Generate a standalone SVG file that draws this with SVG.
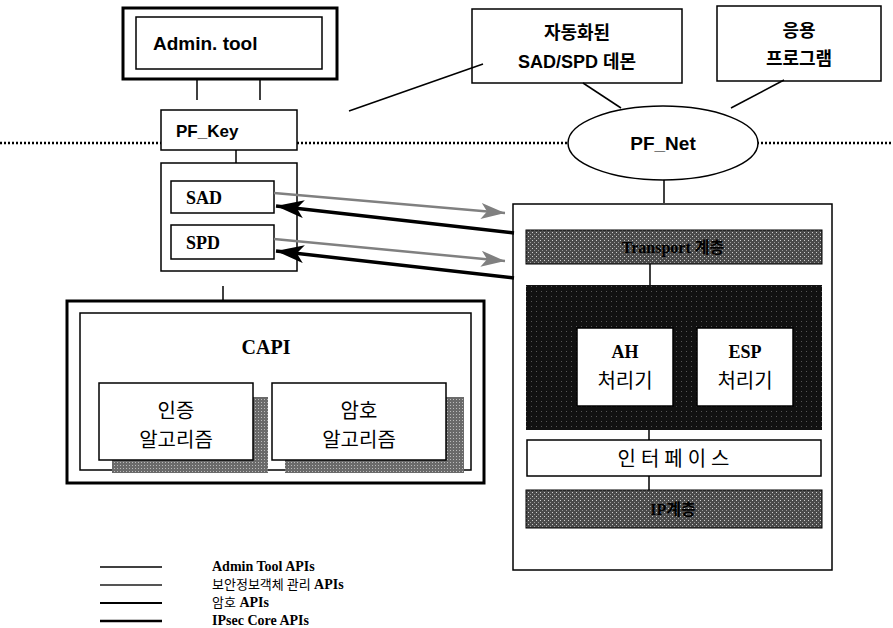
<svg xmlns="http://www.w3.org/2000/svg" width="893" height="628" viewBox="0 0 893 628">
<style>
.box{fill:#fff;stroke:#000;stroke-width:1.5}
.thick{fill:#fff;stroke:#000;stroke-width:3}
.ln{stroke:#000;stroke-width:1.5;fill:none}
.bs{font-family:"Liberation Sans","Noto Sans CJK KR",Arial,sans-serif;font-weight:bold;fill:#000}
.sf{font-family:"Liberation Serif","Noto Sans CJK KR",serif;font-weight:bold;fill:#000}
.kr{font-family:"Noto Sans CJK KR",sans-serif;fill:#000}
.c{text-anchor:middle}
</style>
<defs>
<pattern id="half" width="4" height="4" patternUnits="userSpaceOnUse">
<rect width="4" height="4" fill="#4a4a4a"/>
<rect x="0" y="0" width="1" height="1" fill="#cfcfcf"/>
<rect x="2" y="2" width="1" height="1" fill="#9a9a9a"/>
</pattern>
<pattern id="dark" width="5" height="5" patternUnits="userSpaceOnUse">
<rect width="5" height="5" fill="#111"/>
<rect x="1" y="1" width="1" height="1" fill="#555"/>
</pattern>
<pattern id="shade" width="3" height="3" patternUnits="userSpaceOnUse">
<rect width="3" height="3" fill="#6a6a6a"/>
<rect x="0" y="0" width="1" height="1" fill="#bbb"/>
</pattern>
<marker id="ab" markerUnits="userSpaceOnUse" markerWidth="30" markerHeight="20" refX="28" refY="9" orient="auto">
<path d="M0,0 L28,9 L0,18 L7,9 z" fill="#000"/>
</marker>
<marker id="ag" markerUnits="userSpaceOnUse" markerWidth="26" markerHeight="18" refX="24" refY="8" orient="auto">
<path d="M0,0 L24,8 L0,16 L6,8 z" fill="#808080"/>
</marker>
</defs>

<!-- dotted separator -->
<g id="separator" stroke="#000" stroke-width="2.5" stroke-dasharray="2,2">
<line x1="0" y1="143" x2="161" y2="143"/>
<line x1="297" y1="143" x2="568" y2="143"/>
<line x1="757" y1="143" x2="893" y2="143"/>
</g>

<g id="admin-tool">
<rect class="thick" x="123" y="8" width="214" height="71"/>
<rect class="box" x="136" y="17" width="186" height="52"/>
<text class="bs" x="153" y="50" font-size="19">Admin. tool</text>
</g>

<g id="pf-key">
<rect class="box" x="161" y="110" width="136" height="40"/>
<text class="bs" x="176" y="137" font-size="17">PF_Key</text>
</g>

<g id="sad-spd">
<rect class="box" x="161" y="163" width="136" height="108"/>
<rect class="box" x="171" y="181" width="103" height="32"/>
<text class="sf" x="186" y="204" font-size="18">SAD</text>
<rect class="box" x="171" y="225" width="103" height="34"/>
<text class="sf" x="186" y="249" font-size="18">SPD</text>
</g>

<g id="capi">
<rect class="thick" x="67" y="301" width="417" height="182"/>
<rect class="box" x="80" y="313" width="391" height="157" stroke-width="1"/>
<text class="sf c" x="266" y="354" font-size="20">CAPI</text>
</g>

<g id="auth-alg">
<rect x="112" y="397" width="156" height="76" fill="url(#shade)"/>
<rect class="box" x="99" y="383" width="154" height="77"/>
<text class="kr c" x="176" y="418" font-size="20">인증</text>
<text class="kr c" x="176" y="447" font-size="20">알고리즘</text>
</g>

<g id="crypto-alg">
<rect x="285" y="397" width="179" height="76" fill="url(#shade)"/>
<rect class="box" x="272" y="383" width="174" height="77"/>
<text class="kr c" x="359" y="418" font-size="20">암호</text>
<text class="kr c" x="359" y="447" font-size="20">알고리즘</text>
</g>

<g id="daemon">
<rect class="box" x="472" y="9" width="210" height="74"/>
<text class="bs c" x="577" y="39" font-size="18">자동화된</text>
<text class="bs c" x="577" y="68" font-size="18">SAD/SPD 데몬</text>
</g>

<g id="app">
<rect class="box" x="717" y="6" width="164" height="75"/>
<text class="bs c" x="799" y="37" font-size="18">응용</text>
<text class="bs c" x="799" y="65" font-size="18">프로그램</text>
</g>

<g id="pf-net">
<ellipse cx="663" cy="143" rx="95" ry="37" fill="#fff" stroke="#000" stroke-width="1.5"/>
<text class="c" x="663" y="150" font-size="19" font-family="Liberation Sans Narrow,Liberation Sans,sans-serif" font-weight="bold">PF_Net</text>
</g>

<g id="ipsec-core">
<rect class="box" x="513" y="204" width="319" height="366" stroke-width="2.5"/>
</g>

<g id="transport-layer">
<rect x="526" y="230" width="296" height="34" fill="url(#half)" stroke="#000"/>
<text class="sf c" x="673" y="253" font-size="16" fill="#222">Transport 계층</text>
</g>

<g id="processing">
<rect x="526" y="285" width="296" height="145" fill="url(#dark)"/>
</g>

<g id="ah">
<rect class="box" x="577" y="328" width="96" height="78" stroke-width="1"/>
<text class="sf c" x="625" y="358" font-size="18">AH</text>
<text class="kr c" x="625" y="388" font-size="20">처리기</text>
</g>

<g id="esp">
<rect class="box" x="697" y="328" width="96" height="78" stroke-width="1"/>
<text class="sf c" x="745" y="358" font-size="18">ESP</text>
<text class="kr c" x="745" y="388" font-size="20">처리기</text>
</g>

<g id="interface">
<rect class="box" x="527" y="440" width="294" height="36"/>
<text class="kr c" x="676" y="466" font-size="20" letter-spacing="5">인터페이스</text>
</g>

<g id="ip-layer">
<rect x="526" y="490" width="296" height="38" fill="url(#half)" stroke="#000"/>
<text class="sf c" x="673" y="515" font-size="16" fill="#222">IP계층</text>
</g>

<g id="connectors">
<line class="ln" x1="197" y1="79" x2="197" y2="100" stroke-width="2.5"/>
<line class="ln" x1="260" y1="79" x2="260" y2="100" stroke-width="2.5"/>
<line class="ln" x1="236" y1="150" x2="236" y2="163"/>
<line class="ln" x1="223" y1="286" x2="223" y2="301" stroke-width="2"/>
<line class="ln" x1="349" y1="111" x2="483" y2="64" stroke-width="2.5"/>
<line class="ln" x1="583" y1="83" x2="621" y2="108" stroke-width="2.5"/>
<line class="ln" x1="784" y1="80" x2="731" y2="108" stroke-width="2.5"/>
<line class="ln" x1="664" y1="180" x2="664" y2="203" stroke-width="2"/>
<line class="ln" x1="650" y1="264" x2="650" y2="285"/>
<line class="ln" x1="649" y1="430" x2="649" y2="440"/>
<line class="ln" x1="649" y1="476" x2="649" y2="490"/>
<line x1="274" y1="193" x2="505" y2="213" stroke="#808080" stroke-width="2.5" marker-end="url(#ag)"/>
<line x1="514" y1="233" x2="276" y2="206" stroke="#000" stroke-width="3.5" marker-end="url(#ab)"/>
<line x1="274" y1="239" x2="505" y2="261" stroke="#808080" stroke-width="2.5" marker-end="url(#ag)"/>
<line x1="514" y1="278" x2="276" y2="251" stroke="#000" stroke-width="3.5" marker-end="url(#ab)"/>
</g>

<g id="legend">
<line x1="100" y1="567" x2="162" y2="567" stroke="#000" stroke-width="1.5"/>
<line x1="100" y1="585" x2="162" y2="585" stroke="#555" stroke-width="2"/>
<line x1="100" y1="603" x2="162" y2="603" stroke="#000" stroke-width="2"/>
<line x1="100" y1="621" x2="162" y2="621" stroke="#000" stroke-width="2.5"/>
<text class="sf" x="212" y="571" font-size="14">Admin Tool APIs</text>
<text class="sf" x="212" y="589" font-size="14" fill="#777"><tspan font-family="Noto Sans CJK KR,sans-serif" font-weight="normal" font-size="13">보안정보객체 관리</tspan> APIs</text>
<text class="sf" x="212" y="607" font-size="14"><tspan font-family="Noto Sans CJK KR,sans-serif" font-weight="normal" font-size="13">암호</tspan> APIs</text>
<text class="sf" x="212" y="625" font-size="14">IPsec Core APIs</text>
</g>
</svg>
